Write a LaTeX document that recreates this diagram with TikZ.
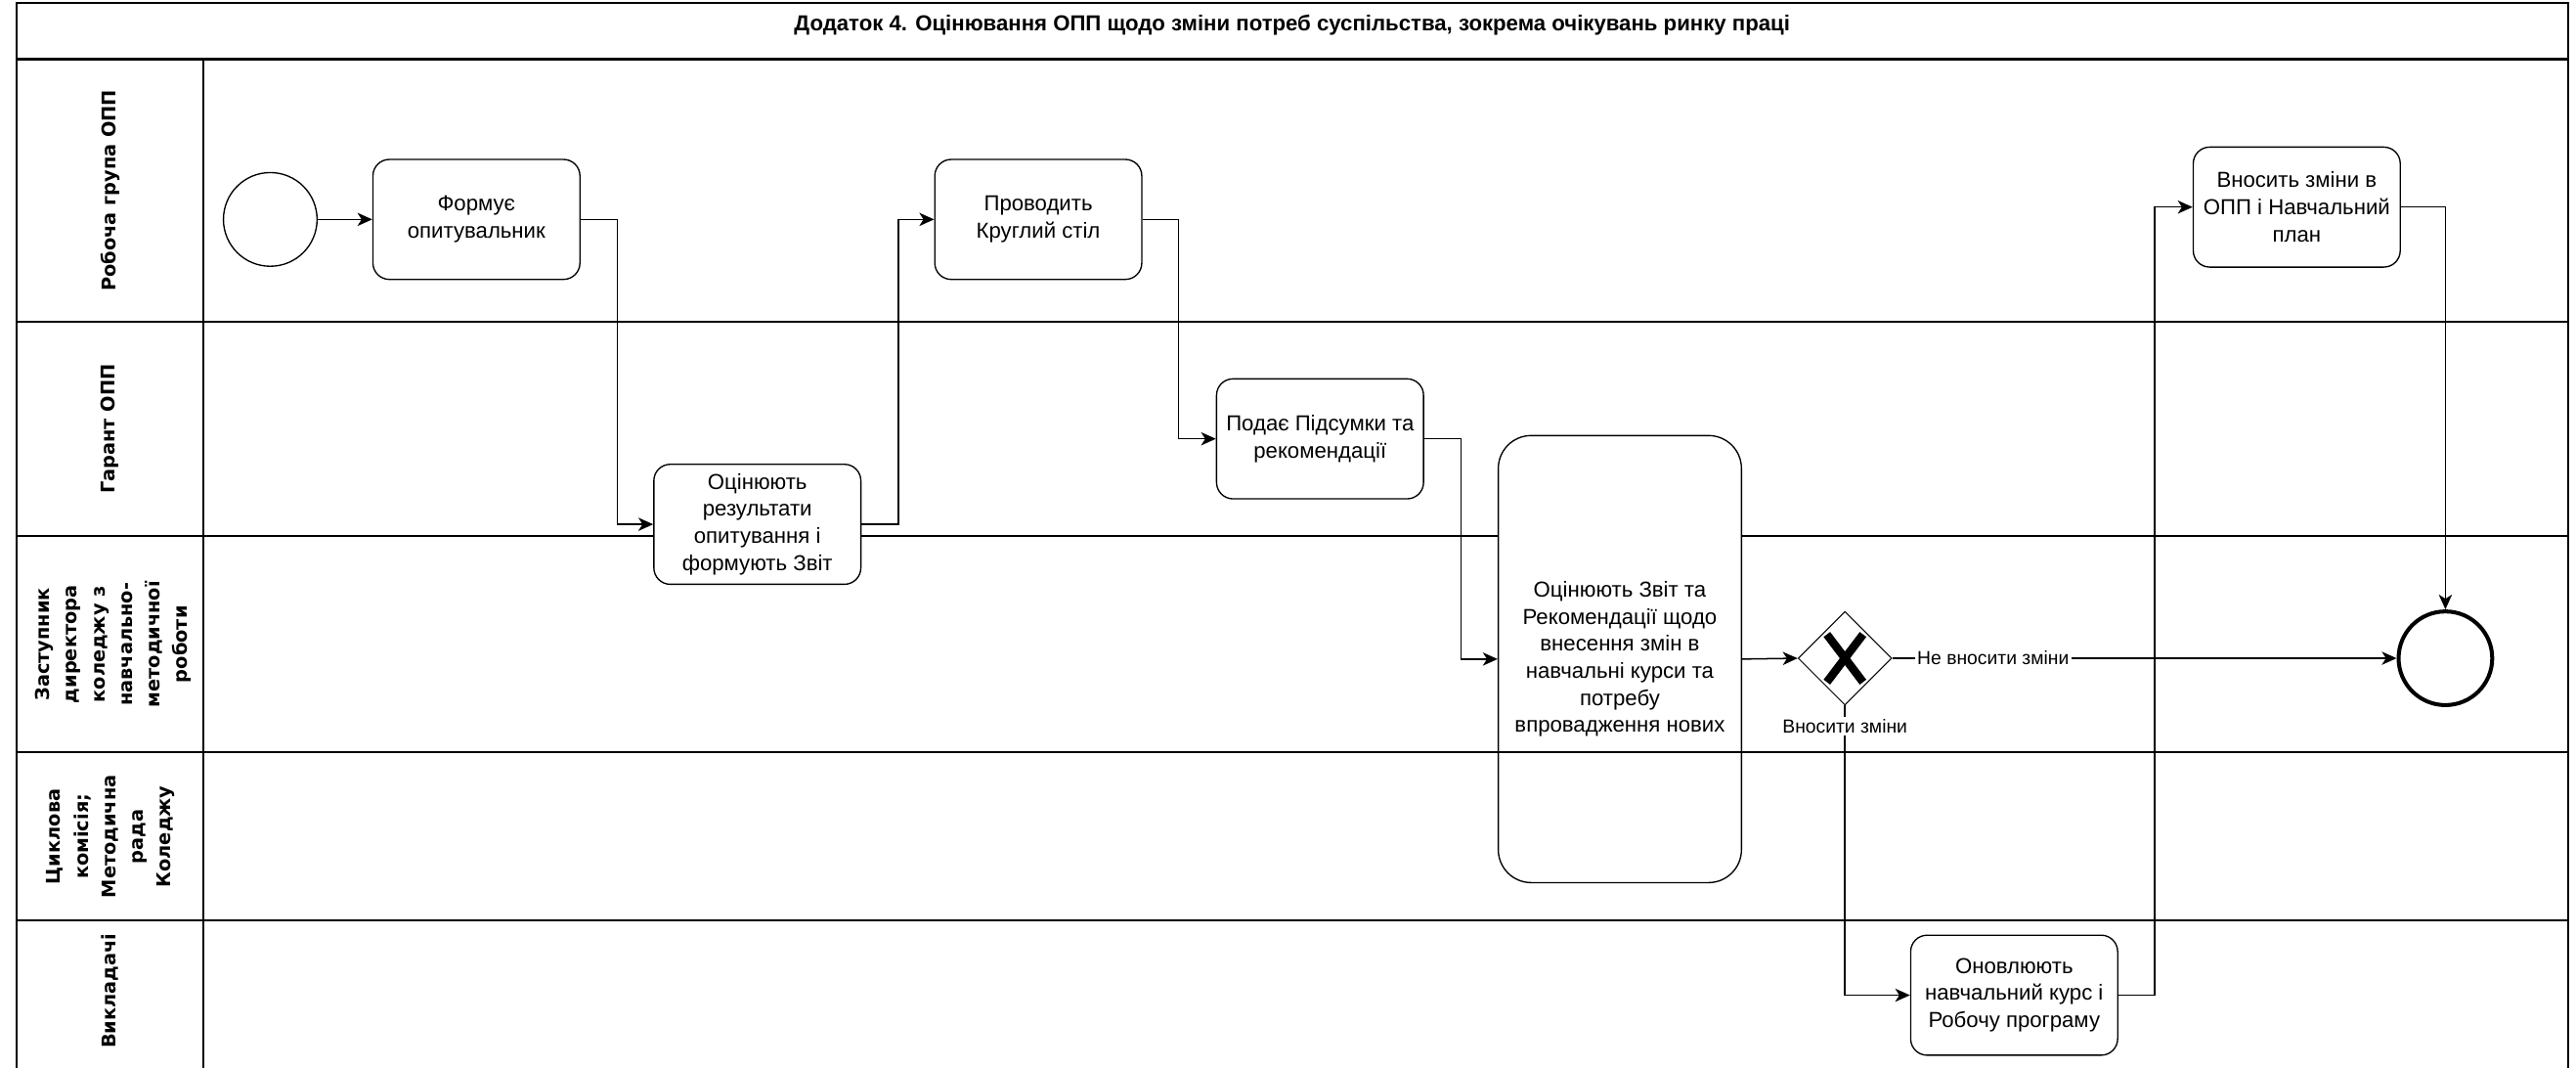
\documentclass[tikz,border=0pt]{standalone}
\usepackage{fontspec}
\setmainfont{Liberation Sans}
\newfontfamily\lanefont{DejaVu Sans}
\usetikzlibrary{arrows.meta,shapes.geometric}

\tikzset{
  pool/.style={line width=1.2pt},
  task/.style={draw,fill=white,rounded corners=10pt,minimum width=126pt,minimum height=73pt,
    inner sep=1pt,align=center,line width=0.8pt,font=\fontsize{13.2}{16.5}\selectfont},
  lane/.style={rotate=90,align=center,font=\lanefont\bfseries\fontsize{11.5}{16.8}\selectfont},
  flow/.style={line width=0.9pt,-{Stealth[length=9pt,width=8pt,inset=2.5pt]}},
  lbl/.style={fill=white,inner sep=1.5pt,font=\fontsize{11.5}{14}\selectfont},
}

\begin{document}
\begin{tikzpicture}[x=1pt,y=1pt]
\useasboundingbox (0,0) rectangle (1568,-650);
\draw[pool] (10,-650) -- (10,-2) -- (1563,-2) -- (1563,-650);
\draw[pool] (10,-36) -- (1563,-36);
\draw[pool] (124,-36) -- (124,-650);
\foreach \y in {196,326,560} \draw[pool] (10,-\y) -- (1563,-\y);
\node[font=\bfseries\fontsize{13.2}{15}\selectfont] (title) at (786.5,-15.5) {Додаток 4. Оцінювання ОПП щодо зміни потреб суспільства, зокрема очікувань ринку праці};

\node[lane] (lwg) at (67,-116) {Робоча група ОПП};
\node[lane] (lgar) at (67,-261) {Гарант ОПП};
\node[lane] (ldep) at (69,-392) {Заступник\\директора\\коледжу з\\навчально-\\методичної\\роботи};
\node[lane] (lcom) at (67.5,-509) {Циклова\\комісія;\\Методична\\рада\\Коледжу};
\node[lane] (ltea) at (67,-603) {Викладачі};

\node[draw,circle,minimum size=57pt,line width=0.8pt] (start) at (164.5,-133.5) {};
\node[task] (form) at (290,-133.5) {Формує\\опитувальник};
\node[task] (ocin) at (461,-319) {Оцінюють\\результати\\опитування і\\формують Звіт};
\node[task] (prov) at (632,-133.5) {Проводить\\Круглий стіл};
\node[task] (pod) at (803.5,-267) {Подає Підсумки та\\рекомендації};
\node[task,rounded corners=20pt,minimum width=148pt,minimum height=272pt] (big) at (986,-401) {Оцінюють Звіт та\\Рекомендації щодо\\внесення змін в\\навчальні курси та\\потребу\\впровадження нових};
\node[draw,diamond,fill=white,minimum width=57pt,minimum height=57pt,inner sep=0pt,line width=0.6pt] (gw) at (1123,-400.5) {};
\node[draw,circle,minimum size=57pt,line width=2.4pt] (end) at (1488.5,-400.5) {};
\node[task] (vn) at (1398,-126) {Вносить зміни в\\ОПП і Навчальний\\план};
\node[task] (upd) at (1226,-605.5) {Оновлюють\\навчальний курс і\\Робочу програму};

\draw[pool] (10,-457.6) -- (1563,-457.6);
\draw[line width=5pt] ([shift={(-11,14.5)}]gw.center) -- ([shift={(11,-14.5)}]gw.center);
\draw[line width=5pt] ([shift={(11,14.5)}]gw.center) -- ([shift={(-11,-14.5)}]gw.center);

\draw[flow] (start) -- (form);
\draw[flow] (form.east) -- ++(22.5,0) |- (ocin.west);
\draw[flow] (ocin.east) -- ++(22.5,0) |- (prov.west);
\draw[flow] (prov.east) -- ++(22,0) |- (pod.west);
\draw[flow] (pod.east) -- ++(22.5,0) |- (big.west);
\draw[flow] (big.east) -- (gw.west);
\draw[flow] (gw.east) -- node[lbl,pos=0.2]{Не вносити зміни} (end.west);
\draw[flow] (gw.south) |- node[lbl,pos=0.035]{Вносити зміни} (upd.west);
\draw[flow] (upd.east) -- ++(22,0) |- (vn.west);
\draw[flow] (vn.east) -| (end.north);

\end{tikzpicture}
\end{document}
